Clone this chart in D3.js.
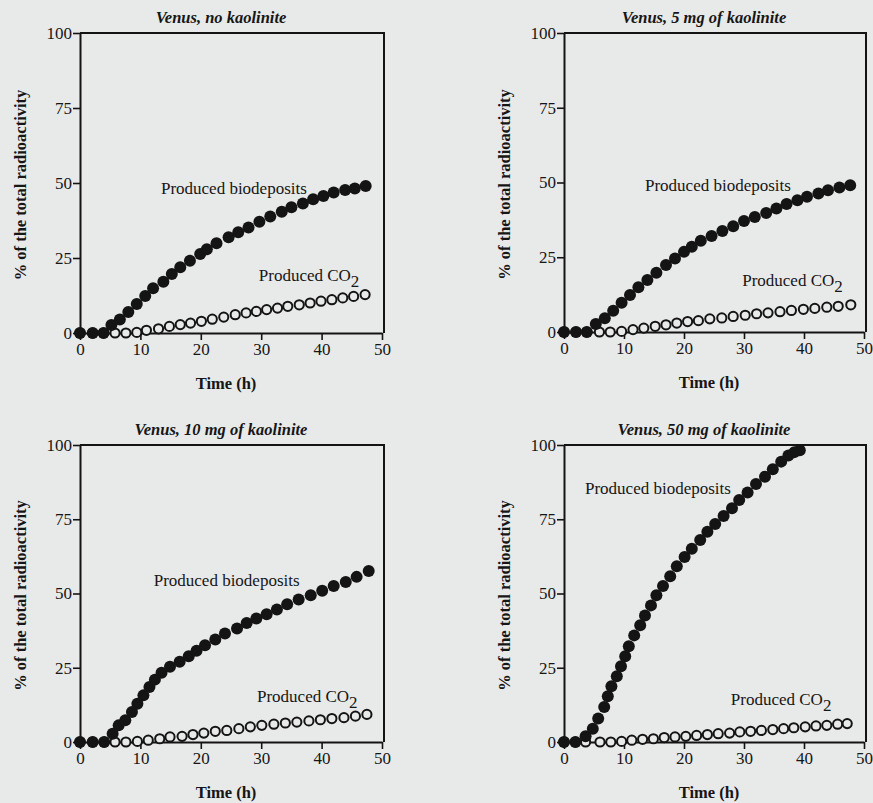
<!DOCTYPE html>
<html>
<head>
<meta charset="utf-8">
<script src="https://cdn.jsdelivr.net/npm/d3@7"></script>
<style>
  body { margin: 0; background: #e8e9e9; }
  svg { display: block; }
  text { font-family: "Liberation Serif", "Times New Roman", serif; fill: #161616; }
</style>
</head>
<body>
<svg id="chart" width="873" height="803"></svg>
<script>
// [time (h), % of total radioactivity]
const bioNone = [[0,0],[2.1,0],[3.9,0],[5.2,2.7],[6.6,4.5],[8,7],[9.4,9.7],[10.8,12.3],[12.1,14.9],[13.8,17.1],[15.2,19.7],[16.6,21.9],[18.2,24.1],[19.9,26.3],[21,27.9],[22.6,29.9],[24.6,31.9],[26.2,33.6],[27.9,35.2],[29.7,37.1],[31.5,38.8],[33.4,40.4],[35,41.9],[36.9,43.2],[38.6,44.6],[40.3,45.7],[42,46.8],[43.9,47.7],[45.5,48.2],[47.3,49]];
const co2None = [[0,0],[2.1,0],[3.9,0],[5.8,0],[7.6,0],[9.4,0.2],[11,0.9],[13,1.4],[14.8,2.2],[16.6,2.8],[18.3,3.3],[20.1,3.9],[21.9,4.6],[23.8,5.3],[25.7,6.1],[27.5,6.7],[29.2,7.2],[30.9,7.8],[32.7,8.3],[34.4,8.9],[36.3,9.4],[38.1,10],[39.9,10.6],[41.7,11.1],[43.5,11.7],[45.3,12.2],[47.2,12.8]];

const bio5 = [[0,0],[2,0],[3.8,0],[5.3,2.7],[6.8,4.6],[8.2,7.1],[9.6,9.8],[11,12.4],[12.4,15],[13.9,17.4],[15.4,19.8],[17,22.4],[18.5,24.6],[20,26.8],[21.3,28.5],[22.8,30.5],[24.6,32.1],[26.4,33.8],[28.2,35.4],[30,37.1],[31.8,38.5],[33.7,39.8],[35.4,41.3],[37.1,42.8],[38.9,44.1],[40.5,45.2],[42.4,46.3],[44,47.4],[45.9,48.3],[47.7,49.1]];
const co25 = [[0,0],[2,0],[3.8,0],[5.9,0],[7.7,0],[9.6,0.2],[11.5,0.8],[13.3,1.3],[15.2,1.9],[17,2.4],[18.8,3],[20.6,3.5],[22.4,3.8],[24.3,4.4],[26.3,4.7],[28.2,5.2],[30.2,5.6],[32.1,6.1],[34,6.4],[36,6.8],[37.9,7.2],[39.9,7.6],[41.8,7.9],[43.8,8.3],[45.7,8.6],[47.8,9.1]];

const bio10 = [[0,0],[2.1,0],[4,0],[5.4,2.8],[6.4,5.6],[7.5,7.3],[8.6,10.1],[9.5,12.9],[10.5,15.7],[11.5,18.5],[12.4,21],[13.5,23.3],[14.9,25.3],[16.5,27],[18,28.9],[19.3,30.7],[20.7,32.6],[22.4,34.5],[24,36.5],[26,38.2],[27.6,40.1],[29.2,41.6],[30.9,43],[32.6,44.6],[34.3,46.4],[36.2,48],[38.2,49.4],[40.1,50.9],[42,52.5],[44,53.9],[45.8,55.6],[47.8,57.6]];
const co210 = [[0,0],[2.1,0],[4,0],[5.8,0],[7.6,0],[9.5,0.2],[11.3,0.6],[13.2,1.1],[14.9,1.7],[16.9,1.9],[18.7,2.5],[20.5,3],[22.4,3.6],[24.3,3.9],[26.3,4.5],[28.2,5.1],[30.1,5.6],[32.1,6],[34,6.4],[35.9,6.7],[37.9,7.1],[39.8,7.5],[41.7,7.9],[43.7,8.2],[45.6,8.7],[47.5,9.3]];

const bio50 = [[0,0],[1.9,0],[3.6,1.9],[4.8,4.5],[5.7,7.9],[6.7,11.8],[7.3,15.4],[7.9,18.8],[8.8,22.1],[9.5,25.5],[10.2,28.9],[10.8,32.2],[11.7,35.9],[12.7,39.3],[13.5,42.6],[14.5,46],[15.4,49.4],[16.5,52.5],[17.7,55.8],[18.8,59.2],[20.1,62.3],[21.3,65.1],[22.7,68],[23.9,70.8],[25.2,73.4],[26.6,76.1],[28,78.7],[29.2,81.5],[30.6,84],[32,86.9],[33.5,89.3],[34.8,91.8],[36.2,94.4],[37.4,96.5],[38.4,97.6],[39.3,98.2]];
const co250 = [[0,0],[1.9,0],[3.6,0],[6,0],[7.8,0],[9.6,0.2],[11.3,0.6],[13.1,0.9],[14.9,1.1],[16.7,1.5],[18.5,1.7],[20.3,1.9],[22.1,2.2],[23.9,2.5],[25.7,2.8],[27.6,3],[29.3,3.4],[31.1,3.6],[32.9,3.9],[34.8,4.2],[36.6,4.5],[38.3,4.8],[40.2,5.1],[42,5.4],[43.8,5.6],[45.6,6],[47.2,6.2]];

const xTicks = [0, 10, 20, 30, 40, 50];
const yTicks = [0, 25, 50, 75, 100];
const titles = ["Venus, no kaolinite", "Venus, 5 mg of kaolinite", "Venus, 10 mg of kaolinite", "Venus, 50 mg of kaolinite"];

const panels = [
  { left: 80,  top: 33,  w: 302, h: 300, title: titles[0], bio: bioNone, co2: co2None, bioLab: [13.4, 46.5], co2Lab: [29.6, 17.5] },
  { left: 564, top: 33,  w: 300, h: 299, title: titles[1], bio: bio5,    co2: co25,    bioLab: [13.5, 47],   co2Lab: [29.7, 15.5] },
  { left: 80,  top: 445, w: 302, h: 297, title: titles[2], bio: bio10,   co2: co210,   bioLab: [12.2, 52.5], co2Lab: [29.3, 13.5] },
  { left: 564, top: 445, w: 300, h: 297, title: titles[3], bio: bio50,   co2: co250,   bioLab: [3.5, 83.5],  co2Lab: [27.8, 12.5] }
];

const svg = d3.select("#chart");
const paper = "#e8e9e9";
const ink = "#141414";

panels.forEach(p => {
  const g = svg.append("g").attr("transform", `translate(${p.left},${p.top})`);
  const x = d3.scaleLinear().domain([0, 50]).range([0, p.w]);
  const y = d3.scaleLinear().domain([0, 100]).range([p.h, 0]);

  // frame (top and right)
  g.append("path")
    .attr("d", `M0,0H${p.w + 2}V${p.h}`)
    .attr("fill", "none").attr("stroke", ink).attr("stroke-width", 2);

  const xAxis = g.append("g").attr("transform", `translate(0,${p.h})`)
    .call(d3.axisBottom(x).tickValues(xTicks).tickSize(7).tickPadding(3).tickSizeOuter(0));
  const yAxis = g.append("g")
    .call(d3.axisLeft(y).tickValues(yTicks).tickSize(7).tickPadding(1).tickSizeOuter(0));

  [xAxis, yAxis].forEach(a => {
    a.select(".domain").attr("stroke", ink).attr("stroke-width", 2);
    a.selectAll(".tick line").attr("stroke", ink).attr("stroke-width", 1.6);
    a.selectAll(".tick text").attr("font-family", "Liberation Serif, serif")
      .attr("font-size", 17).attr("fill", ink);
  });

  g.append("text")
    .attr("x", x(25) - 10).attr("y", -10)
    .attr("text-anchor", "middle")
    .attr("font-size", 16.5).attr("font-weight", "bold").attr("font-style", "italic")
    .text(p.title);

  g.append("text")
    .attr("x", x(25) - 5).attr("y", p.h + 56)
    .attr("text-anchor", "middle")
    .attr("font-size", 16.5).attr("font-weight", "bold")
    .text("Time (h)");

  g.append("text")
    .attr("transform", `translate(${-54},${p.h / 2 + 2}) rotate(-90)`)
    .attr("text-anchor", "middle")
    .attr("font-size", 16.5).attr("font-weight", "bold")
    .text("% of the total radioactivity");

  // CO2 (open) first, biodeposits (filled) on top
  g.append("g").selectAll("circle")
    .data(p.co2)
    .join("circle")
    .attr("cx", d => x(d[0]))
    .attr("cy", d => y(d[1]))
    .attr("r", 4.6)
    .attr("fill", paper)
    .attr("stroke", ink)
    .attr("stroke-width", 2);

  g.append("g").selectAll("circle")
    .data(p.bio)
    .join("circle")
    .attr("cx", d => x(d[0]))
    .attr("cy", d => y(d[1]))
    .attr("r", 6)
    .attr("fill", ink);

  g.append("text")
    .attr("x", x(p.bioLab[0])).attr("y", y(p.bioLab[1]))
    .attr("font-size", 17)
    .text("Produced biodeposits");

  const co2 = g.append("text")
    .attr("x", x(p.co2Lab[0])).attr("y", y(p.co2Lab[1]))
    .attr("font-size", 17);
  co2.append("tspan").text("Produced CO");
  co2.append("tspan").attr("dy", 6).text("2");
});
</script>
</body>
</html>
